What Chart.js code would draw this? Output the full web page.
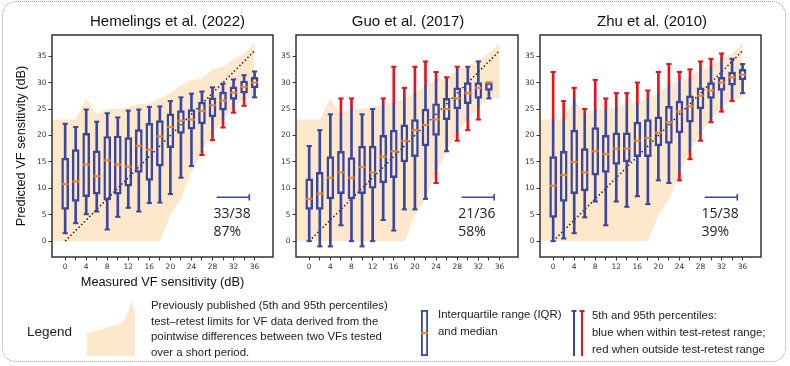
<!DOCTYPE html>
<html>
<head>
<meta charset="utf-8">
<script src="https://cdn.jsdelivr.net/npm/chart.js@4.4.1/dist/chart.umd.min.js"></script>
<style>
  html, body { margin: 0; padding: 0; background: #fff; }
  #fig { position: relative; width: 790px; height: 366px; overflow: hidden; background: #fff;
         font-family: 'Liberation Sans', Arial, sans-serif; color: #222; }
  #border { position: absolute; left: 2px; top: 1px; width: 782px; height: 359px;
            border: 1px dotted #9c9c9c; border-radius: 14px; }
  canvas { position: absolute; top: 0; }
  svg { position: absolute; left: 0; top: 0; }
  .t { position: absolute; white-space: nowrap; font-size: 11.4px; color: #222; }
</style>
</head>
<body>
<div id="fig">
  <div id="border"></div>
  <canvas id="c0" width="335" height="300" style="left:0px"></canvas>
  <canvas id="c1" width="276" height="300" style="left:270px"></canvas>
  <canvas id="c2" width="276" height="300" style="left:514px"></canvas>
  <svg width="790" height="366">
    <polygon points="87,333 96,331 104,329 110,326 117,325 123,322 126,318 128,312 130,306 132,301 133,307 135,312 135,356 87,356" fill="#fde8cb"/>
    <rect x="421.9" y="310.9" width="5.2" height="44.2" fill="none" stroke="#3b479f" stroke-width="1.8"/>
    <line x1="421" y1="333" x2="428" y2="333" stroke="#ff7f0e" stroke-width="2"/>
    <line x1="574" y1="310" x2="574" y2="356" stroke="#3b479f" stroke-width="2"/>
    <line x1="571.5" y1="311" x2="576.5" y2="311" stroke="#3b479f" stroke-width="2"/>
    <line x1="582" y1="310" x2="582" y2="356" stroke="#e8121b" stroke-width="2"/>
    <line x1="579.5" y1="311" x2="584.5" y2="311" stroke="#e8121b" stroke-width="2"/>
  </svg>
  <div class="t" style="left:27px;top:324px;font-size:13.5px">Legend</div>
  <div class="t" style="left:151px;top:298px;line-height:15.5px">Previously published (5th and 95th percentiles)<br>test–retest limits for VF data derived from the<br>pointwise differences between two VFs tested<br>over a short period.</div>
  <div class="t" style="left:438px;top:306px;line-height:17px">Interquartile range (IQR)<br>and median</div>
  <div class="t" style="left:592px;top:307px;line-height:17px">5th and 95th percentiles:<br>blue when within test-retest range;<br>red when outside test-retest range</div>
</div>
<script>
// ---------------- data ----------------
const boxX = [0, 2, 4, 6, 8, 10, 12, 14, 16, 18, 20, 22, 24, 26, 28, 30, 32, 34, 36];
const xTickValues = [0, 2, 4, 6, 8, 10, 12, 14, 16, 18, 20, 22, 24, 26, 28, 30, 32, 34, 36];
const yTickValues = [0, 5, 10, 15, 20, 25, 30, 35];
const identityLine = [0, 36];

const panelTitles = ['Hemelings et al. (2022)', 'Guo et al. (2017)', 'Zhu et al. (2010)'];
const countLabels = ['33/38', '21/36', '15/38'];
const pctLabels = ['87%', '58%', '39%'];
const xAxisTitle = 'Measured VF sensitivity (dB)';
const yAxisTitle = 'Predicted VF sensitivity (dB)';

// previously published test-retest limits (5th / 95th percentiles)
const limitX     = [-2.5, 0, 2, 4, 6, 8, 10, 12, 14, 16, 18, 20, 22, 24, 26, 28, 30, 32, 34, 36];
const limitUpper = [23, 23, 23, 27, 24, 25, 25, 25.3, 26, 26, 27, 28, 29.5, 30.5, 30.7, 32.5, 33, 34.3, 35.5, 37.5];
const limitLower = [0, 0, 0, 0, 0, 0, 0, 0, 0, 0, 0, 5, 8, 13, 17, 20.5, 23, 25.3, 27, 27];

// Hemelings et al. (2022)
const hemHigh = [22.2, 21.6, 24.9, 22.6, 24.2, 23.4, 24.7, 24.9, 25.4, 25.5, 26.5, 27.2, 27.9, 28.3, 29.1, 29.8, 30.6, 31.4, 32.1];
const hemQ3   = [15.7, 17.3, 20.4, 17.1, 19.8, 19.9, 19.6, 21.1, 22.3, 22.8, 24.1, 24.7, 24.9, 26.3, 27.1, 28.2, 29.2, 30.3, 31.0];
const hemMed  = [10.8, 11.3, 14.5, 12.3, 15.3, 14.5, 14.1, 18.0, 17.3, 19.8, 21.6, 22.8, 23.0, 24.6, 25.7, 26.6, 28.1, 29.2, 30.0];
const hemQ1   = [6.0, 7.5, 8.4, 8.9, 7.8, 8.9, 10.4, 13.0, 11.5, 14.2, 17.7, 20.4, 21.2, 22.2, 23.5, 24.8, 26.8, 28.0, 29.0];
const hemLow  = [1.5, 3.4, 5.1, 5.6, 2.2, 4.6, 6.3, 5.6, 7.2, 7.3, 8.9, 12.0, 14.2, 16.3, 19.1, 21.5, 24.3, 25.6, 27.2];

// Guo et al. (2017)
const guoHigh = [18, 21, 24, 27, 27, 24, 25, 27, 33, 29, 33, 34, 32, 31, 33, 33, 34, 30];
const guoQ3   = [11.8, 13, 16, 17, 15.8, 18, 18, 20, 21, 22, 23, 25, 26, 27, 29, 30, 30, 30];
const guoMed  = [8, 9, 12, 13, 12, 14, 13, 16, 17, 19, 21, 22, 23, 25, 27, 28, 29, 30];
const guoQ1   = [6, 6, 8, 9, 8, 9, 10, 11, 12, 15, 16, 18, 20, 23, 25, 26, 27, 28.5];
const guoLow  = [0, -1, -1, 3, 0, -1, 0, 4, 2, 6, 6, 8, 11, 17, 19, 21, 23, 27];

// Zhu et al. (2010)
const zhuHigh = [32, 26.5, 29, 25, 30.5, 27, 28, 28, 30, 28.5, 32, 33.5, 32, 32.5, 34, 34.5, 35.5, 34.5, 33.5];
const zhuQ3   = [16, 17, 21, 17.5, 21.5, 20, 20.5, 20.5, 22.5, 23, 23.5, 25.5, 26.5, 27.5, 29, 30, 31, 32, 32.5];
const zhuMed  = [10.5, 12.5, 15, 13, 17, 16.5, 17.5, 17.5, 19, 19.5, 20.5, 22.5, 24.5, 25.5, 27.5, 28.5, 30, 31, 31.5];
const zhuQ1   = [4.5, 7.5, 9, 9.5, 12.5, 13, 14.5, 15, 16, 16, 18, 18.5, 20.5, 22.5, 25, 27, 28.5, 29.5, 30.5];
const zhuLow  = [0, 0.5, 1.5, 4.5, 7.5, 3, 7.5, 6.5, 8.5, 7, 11.5, 11, 11.5, 15.5, 19, 22.5, 24.5, 26.5, 28];

// ---------------- styles ----------------
const BLUE = '#3b479f', RED = '#e8121b', ORANGE = '#ff7f0e', PEACH = '#fde8cb', INK = '#222';
const axisTitleFont = { family: "'Liberation Sans', Arial, sans-serif", size: 12.8, weight: 'normal' };

const panels = [
  { low: hemLow, q1: hemQ1, med: hemMed, q3: hemQ3, high: hemHigh },
  { low: guoLow, q1: guoQ1, med: guoMed, q3: guoQ3, high: guoHigh },
  { low: zhuLow, q1: zhuQ1, med: zhuMed, q3: zhuQ3, high: zhuHigh }
];

function limitsAt(x) {
  const i = limitX.indexOf(x);
  const lo = limitLower[i] > 0 ? limitLower[i] : -Infinity; // 0 = floor of the scale
  return { lo, hi: limitUpper[i] };
}

function buildDatasets(p) {
  const n = p.med.length;
  const blue = [], red = [], caps = [], capColors = [], boxes = [], meds = [];
  for (let i = 0; i < n; i++) {
    const x = boxX[i];
    const { lo, hi } = limitsAt(x);
    const addSeg = (a, b) => {
      if (b <= a) return;
      const ba = Math.max(a, lo), bb = Math.min(b, hi);
      if (bb > ba) blue.push({ x, y: [ba, bb] });
      if (a < lo) red.push({ x, y: [a, Math.min(b, lo)] });
      if (b > hi) red.push({ x, y: [Math.max(a, hi), b] });
    };
    addSeg(p.low[i], p.q1[i]);
    addSeg(p.q3[i], p.high[i]);
    caps.push({ x, y: p.low[i] }); capColors.push(p.low[i] < lo ? RED : BLUE);
    caps.push({ x, y: p.high[i] }); capColors.push(p.high[i] > hi ? RED : BLUE);
    boxes.push({ x, y: [p.q1[i], p.q3[i]] });
    meds.push({ x, y: p.med[i] });
  }
  const noPts = { pointRadius: 0, pointHoverRadius: 0 };
  return [
    { type: 'line', label: 'limit lower', data: limitX.map((x, i) => ({ x, y: limitLower[i] })),
      borderColor: 'rgba(0,0,0,0)', borderWidth: 0, fill: false, tension: 0, order: 10, ...noPts },
    { type: 'line', label: 'limit upper', data: limitX.map((x, i) => ({ x, y: limitUpper[i] })),
      borderColor: 'rgba(0,0,0,0)', borderWidth: 0, backgroundColor: PEACH, fill: '-1', tension: 0, order: 9, ...noPts },
    { type: 'line', label: 'identity', data: identityLine.map(v => ({ x: v, y: v })),
      borderColor: INK, borderWidth: 1.5, borderDash: [1.5, 2.3], fill: false, order: 6, ...noPts },
    { type: 'bar', label: 'whisker in', data: blue, backgroundColor: BLUE, borderWidth: 0,
      barThickness: 2, grouped: false, order: 5 },
    { type: 'bar', label: 'whisker out', data: red, backgroundColor: RED, borderWidth: 0,
      barThickness: 2, grouped: false, order: 4 },
    { type: 'line', label: 'caps', data: caps, showLine: false, pointStyle: 'line', pointRadius: 2.6,
      pointHoverRadius: 2.6, pointBorderWidth: 2, pointBorderColor: capColors, pointBackgroundColor: capColors, order: 3 },
    { type: 'bar', label: 'IQR', data: boxes, backgroundColor: 'rgba(0,0,0,0)', borderColor: BLUE,
      borderWidth: 1.8, borderSkipped: false, barThickness: 7, grouped: false, order: 2 },
    { type: 'line', label: 'median', data: meds, showLine: false, pointStyle: 'line', pointRadius: 3.3,
      pointHoverRadius: 3.3, pointBorderWidth: 2, pointBorderColor: ORANGE, pointBackgroundColor: ORANGE, order: 1 }
  ];
}

const framePlugin = {
  id: 'frame',
  afterDraw(chart) {
    const { ctx, chartArea: a } = chart;
    ctx.save();
    ctx.strokeStyle = '#333';
    ctx.lineWidth = 1.5;
    ctx.strokeRect(a.left, a.top, a.right - a.left, a.bottom - a.top);
    ctx.restore();
  }
};

const notePlugin = {
  id: 'note',
  afterDatasetsDraw(chart, args, o) {
    const { ctx, scales: { x, y } } = chart;
    const x0 = x.getPixelForValue(o.x0), x1 = x.getPixelForValue(o.x1), yy = y.getPixelForValue(o.y);
    ctx.save();
    ctx.strokeStyle = BLUE; ctx.lineWidth = 1.6;
    ctx.beginPath();
    ctx.moveTo(x0, yy); ctx.lineTo(x1, yy);
    ctx.moveTo(x1, yy - 3.2); ctx.lineTo(x1, yy + 3.2);
    ctx.stroke();
    ctx.fillStyle = INK;
    ctx.font = "14px 'Open Sans', 'Noto Sans', sans-serif";
    ctx.textAlign = 'left'; ctx.textBaseline = 'middle';
    ctx.fillText(o.count, x.getPixelForValue(o.tx), y.getPixelForValue(o.ty1));
    ctx.fillText(o.pct, x.getPixelForValue(o.tx), y.getPixelForValue(o.ty2));
    ctx.restore();
  }
};

// left axis width / right spacer width per panel (canvas centred on each title)
const layoutInfo = [
  { yWidth: 52, rightWidth: 62 },
  { yWidth: 26, rightWidth: 28 },
  { yWidth: 26, rightWidth: 29 }
];

panels.forEach((p, k) => {
  const L = layoutInfo[k];
  new Chart(document.getElementById('c' + k), {
    type: 'bar',
    data: { datasets: buildDatasets(p) },
    options: {
      responsive: false,
      animation: false,
      events: [],
      devicePixelRatio: 1,
      layout: { padding: 0 },
      plugins: {
        legend: { display: false },
        tooltip: { enabled: false },
        title: {
          display: true, text: panelTitles[k], color: '#111',
          font: { family: "'Liberation Sans', Arial, sans-serif", size: 15, weight: 'normal' },
          padding: { top: 13, bottom: 4 }
        },
        note: { x0: 28.8, x1: 35, y: 8.3, tx: 28.2, ty1: 5.2, ty2: 1.7, count: countLabels[k], pct: pctLabels[k] }
      },
      scales: {
        x: {
          type: 'linear', min: -2.5, max: 39.5, offset: false,
          afterBuildTicks: s => { s.ticks = xTickValues.map(v => ({ value: v })); },
          afterFit: s => { s.height = 43; },
          grid: { display: true, offset: false, drawOnChartArea: false, drawTicks: true, tickLength: 3.5, tickWidth: 1, tickColor: '#333' },
          border: { display: false },
          ticks: { autoSkip: false, maxRotation: 0, minRotation: 0, padding: 2, color: '#333',
                   font: { family: "'DejaVu Sans', sans-serif", size: 7.5 },
                   callback: v => (v % 4 === 0 ? String(v) : '') },
          title: k === 0
            ? { display: true, text: xAxisTitle, color: '#111', font: axisTitleFont, padding: { top: 0, bottom: 10 } }
            : { display: false }
        },
        y: {
          type: 'linear', position: 'left', min: -3, max: 39,
          afterBuildTicks: s => { s.ticks = yTickValues.map(v => ({ value: v })); },
          afterFit: s => { s.width = L.yWidth; },
          grid: { display: true, drawOnChartArea: false, drawTicks: true, tickLength: 3.5, tickWidth: 1, tickColor: '#333' },
          border: { display: false },
          ticks: { padding: 2, color: '#333', font: { family: "'DejaVu Sans', sans-serif", size: 7.5 } },
          title: k === 0
            ? { display: true, text: yAxisTitle, color: '#111', font: axisTitleFont, padding: { top: 14, bottom: 0 } }
            : { display: false }
        },
        // blank spacer on the right so each title is centred over its panel
        yRight: {
          type: 'linear', position: 'right', min: -3, max: 39,
          afterFit: s => { s.width = L.rightWidth; },
          grid: { display: false }, border: { display: false }, ticks: { display: false }
        }
      }
    },
    plugins: [framePlugin, notePlugin]
  });
});
</script>
</body>
</html>
